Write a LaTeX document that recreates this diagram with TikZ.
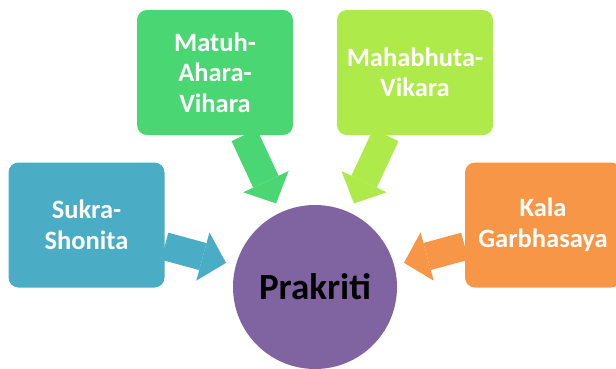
\documentclass[tikz,border=0pt]{standalone}
\usepackage{fontspec}
\setmainfont{Carlito}
\usetikzlibrary{arrows.meta, backgrounds}
\definecolor{sukrablue}{RGB}{75, 172, 198}
\definecolor{matuhgreen}{RGB}{74, 214, 114}
\definecolor{bhutalime}{RGB}{174, 234, 74}
\definecolor{kalaorange}{RGB}{247, 150, 70}
\definecolor{prakpurple}{RGB}{128, 100, 162}

\begin{document}
\begin{tikzpicture}[x=1pt, y=-1pt,
    box/.style={rounded corners=10pt, minimum width=156pt, minimum height=125pt,
      inner sep=0pt, align=center, text=white,
      font=\fontsize{26.5}{30.5}\selectfont\bfseries},
    flow/.style={line width=28pt, shorten >=10pt,
      -{Triangle[width=50pt, length=24pt, line width=0pt]}}]
    \useasboundingbox (0,0) rectangle (616,368);

    % causes
    \node[box, fill=sukrablue] (sukra) at (86.5,225) {Sukra-\\Shonita};
    \node[box, fill=matuhgreen] (matuh) at (215,72.5) {Matuh-\\Ahara-\\Vihara};
    \node[box, fill=bhutalime] (bhuta) at (415,72.5) {Mahabhuta-\\Vikara};
    \node[box, fill=kalaorange] (kala) at (543,225) {Kala\\Garbhasaya};

    % centre
    \node[circle, fill=prakpurple, minimum size=164pt, inner sep=0pt,
      font=\fontsize{37}{44}\selectfont\bfseries] (prak) at (315,287) {Prakriti};

    % block arrows
    \begin{scope}[on background layer]
        \draw[flow, sukrablue] (sukra) -- (prak);
        \draw[flow, matuhgreen] (matuh) -- (prak);
        \draw[flow, bhutalime] (bhuta) -- (prak);
        \draw[flow, kalaorange] (kala) -- (prak);
    \end{scope}
\end{tikzpicture}
\end{document}
